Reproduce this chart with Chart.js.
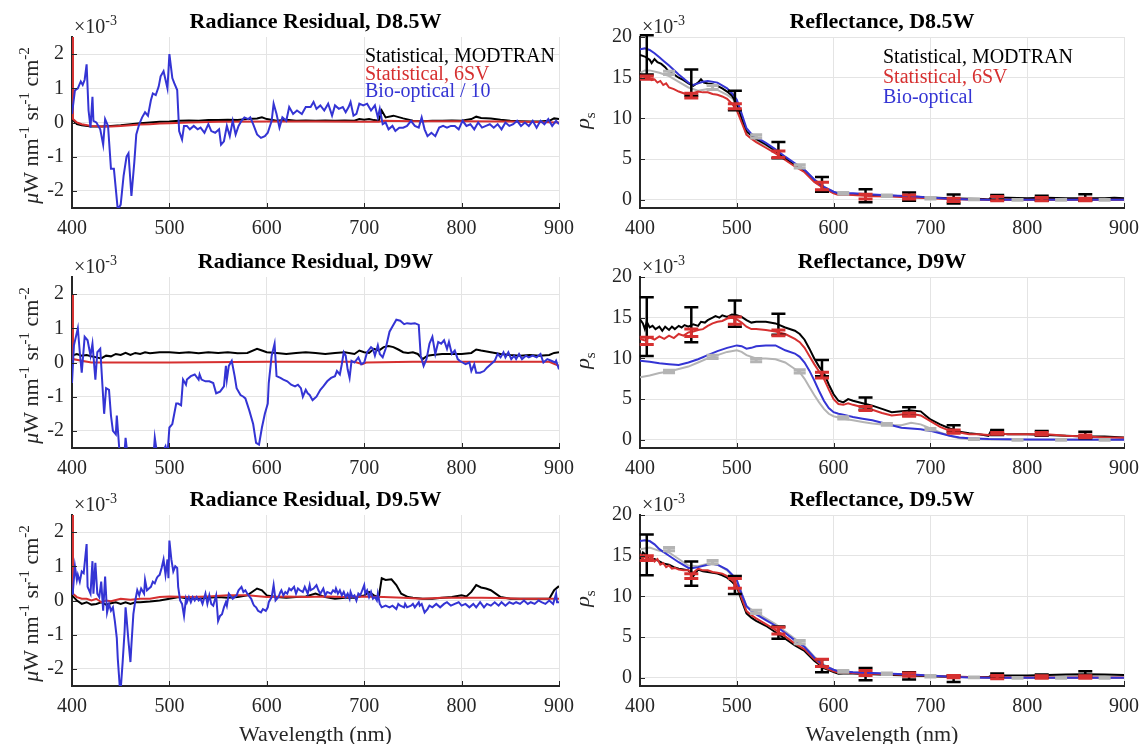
<!DOCTYPE html>
<html>
<head>
<meta charset="utf-8">
<script src="https://cdn.jsdelivr.net/npm/chart.js@4.4.1/dist/chart.umd.min.js"></script>
<style>
  body { margin: 0; background: #fff; width: 1142px; height: 744px; position: relative; overflow: hidden; }
  canvas { position: absolute; }
</style>
</head>
<body>
<canvas id="rad85"></canvas>
<canvas id="ref85"></canvas>
<canvas id="rad9"></canvas>
<canvas id="ref9"></canvas>
<canvas id="rad95"></canvas>
<canvas id="ref95"></canvas>
<script>
// ---- axis ticks ----
const xTicks = [400, 500, 600, 700, 800, 900];
const radTicks = [-2, -1, 0, 1, 2];
const reflTicks = [0, 5, 10, 15, 20];

// ---- radiance residuals (x1e-3), [wavelength nm, value] ----
const radModD85 = [[400,0.1],[405,-0.05],[410,-0.08],[420,-0.12],[430,-0.12],[440,-0.1],[450,-0.08],[460,-0.05],[470,-0.02],[480,0.0],[490,0.02],[500,0.03],[510,0.05],[520,0.06],[530,0.05],[540,0.07],[550,0.07],[560,0.08],[570,0.07],[580,0.1],[590,0.12],[595,0.15],[600,0.1],[610,0.05],[620,0.08],[630,0.05],[640,0.06],[650,0.05],[660,0.06],[670,0.05],[680,0.06],[690,0.05],[695,0.1],[700,0.08],[705,0.1],[710,0.07],[715,0.05],[718,0.35],[722,0.15],[730,0.2],[740,0.12],[750,0.05],[760,0.04],[770,0.05],[780,0.05],[790,0.06],[800,0.05],[810,0.1],[815,0.17],[820,0.13],[830,0.12],[840,0.08],[850,0.05],[860,0.04],[870,0.03],[880,0.03],[890,0.05],[895,0.12],[900,0.1]];
const rad6svD85 = [[400,2.6],[401,0.1],[405,0.0],[410,-0.05],[420,-0.1],[430,-0.12],[440,-0.12],[450,-0.1],[460,-0.08],[470,-0.06],[480,-0.05],[490,-0.03],[500,-0.02],[520,0.0],[550,0.02],[600,0.03],[650,0.03],[700,0.02],[715,0.02],[720,0.05],[750,0.04],[800,0.04],[850,0.03],[900,0.0]];
const radBioD85 = [[400,0.25],[403,0.94],[406,1.0],[409,1.2],[411,1.1],[413,1.25],[415,1.7],[417,0.35],[419,-0.15],[421,0.75],[422,0.05],[425,0.0],[429,-0.2],[432,-0.65],[434,0.1],[437,-0.1],[440,-1.35],[443,-1.35],[445,-1.95],[447,-2.55],[450,-2.4],[453,-1.55],[456,-1.0],[458,-0.9],[461,-2.15],[464,-1.15],[466,-0.35],[469,-0.05],[472,0.15],[475,0.3],[478,0.2],[481,0.65],[483,0.85],[486,0.8],[489,1.05],[491,1.35],[494,1.5],[496,1.25],[498,1.0],[500,2.0],[503,1.3],[505,1.15],[508,0.95],[510,-0.25],[513,-0.5],[515,-0.1],[518,-0.1],[521,-0.2],[525,-0.1],[529,-0.2],[532,-0.15],[536,-0.3],[540,-0.05],[543,-0.25],[547,-0.3],[551,-0.2],[553,-0.65],[556,-0.55],[559,-0.1],[562,-0.4],[565,0.05],[568,-0.35],[571,-0.1],[574,0.05],[577,0.15],[581,0.1],[583,0.15],[586,-0.05],[590,-0.35],[594,-0.45],[598,-0.4],[601,-0.3],[605,0.05],[607,0.55],[610,0.25],[613,-0.15],[616,0.15],[620,0.05],[623,0.45],[627,0.25],[631,0.35],[636,0.25],[640,0.45],[645,0.45],[648,0.6],[651,0.4],[655,0.5],[659,0.35],[663,0.55],[667,0.2],[670,0.5],[674,0.4],[678,0.45],[681,0.3],[684,0.45],[686,0.6],[689,0.2],[692,0.25],[695,0.55],[699,0.5],[703,0.55],[707,0.35],[711,0.5],[714,0.15],[716,0.4],[719,-0.05],[722,0.0],[725,-0.2],[729,-0.1],[732,-0.25],[736,-0.15],[740,-0.15],[744,-0.1],[748,0.05],[752,-0.1],[756,-0.15],[759,0.15],[762,-0.2],[765,-0.4],[769,-0.3],[773,-0.4],[777,-0.15],[781,-0.1],[785,-0.15],[789,-0.1],[793,-0.1],[797,-0.2],[801,0.05],[805,-0.1],[809,-0.05],[813,-0.2],[817,0.0],[821,-0.15],[825,-0.1],[829,-0.05],[833,-0.15],[837,-0.05],[841,-0.2],[845,0.0],[849,-0.1],[853,-0.05],[857,0.05],[861,-0.1],[865,0.0],[869,-0.1],[873,0.05],[877,-0.15],[881,0.05],[885,-0.05],[889,0.1],[893,-0.1],[897,0.05],[900,-0.05]];

const radModD9 = [[400,0.2],[405,0.25],[410,0.2],[415,0.22],[420,0.18],[425,0.15],[430,0.12],[435,0.2],[440,0.18],[445,0.25],[450,0.22],[455,0.28],[460,0.22],[465,0.28],[470,0.25],[475,0.3],[480,0.27],[490,0.3],[500,0.3],[510,0.28],[520,0.3],[530,0.27],[540,0.3],[550,0.28],[560,0.3],[570,0.27],[580,0.28],[590,0.4],[595,0.35],[600,0.3],[610,0.28],[620,0.25],[630,0.28],[640,0.3],[650,0.28],[660,0.25],[670,0.28],[680,0.3],[690,0.25],[695,0.35],[700,0.3],[705,0.28],[710,0.4],[715,0.35],[720,0.45],[725,0.48],[730,0.45],[735,0.38],[740,0.3],[745,0.28],[750,0.3],[755,0.25],[760,0.1],[765,0.2],[770,0.22],[780,0.25],[790,0.25],[800,0.25],[810,0.28],[815,0.38],[820,0.35],[830,0.3],[840,0.25],[850,0.22],[860,0.2],[870,0.22],[880,0.2],[890,0.22],[895,0.28],[900,0.3]];
const rad6svD9 = [[400,2.0],[401,0.1],[410,0.05],[420,0.0],[450,0.0],[500,0.0],[600,0.02],[690,0.02],[698,-0.05],[702,0.0],[750,0.02],[800,0.02],[850,0.02],[890,0.02],[900,-0.1]];
const radBioD9 = [[400,-0.6],[402,0.5],[406,1.0],[408,0.3],[410,-0.3],[413,0.75],[416,0.65],[418,0.35],[419,0.2],[421,0.55],[424,-0.5],[426,0.3],[429,0.4],[433,-1.5],[435,-0.75],[438,-0.8],[440,-1.55],[442,-2.0],[445,-2.1],[446,-1.55],[449,-2.7],[453,-3.0],[455,-2.2],[457,-2.7],[461,-3.2],[468,-3.5],[475,-3.3],[483,-3.0],[485,-2.2],[487,-2.6],[490,-2.8],[496,-2.45],[498,-2.7],[500,-1.9],[503,-1.8],[507,-1.2],[509,-1.2],[512,-1.25],[514,-0.5],[517,-0.65],[518,-0.5],[522,-0.4],[526,-0.35],[530,-0.5],[531,-0.35],[533,-0.5],[537,-0.55],[541,-0.55],[545,-0.6],[548,-0.9],[552,-0.85],[556,-0.7],[558,-0.1],[559,-0.5],[561,-0.1],[564,0.05],[567,-0.4],[569,-0.75],[573,-0.95],[576,-1.0],[578,-1.05],[582,-1.4],[586,-1.8],[589,-2.35],[592,-2.4],[595,-1.9],[598,-1.5],[601,-1.2],[602,-0.6],[605,0.2],[608,0.55],[610,-0.4],[614,-0.45],[617,-0.5],[621,-0.55],[625,-0.65],[629,-0.7],[632,-0.65],[635,-0.75],[637,-1.0],[640,-0.8],[642,-0.9],[644,-0.95],[647,-1.1],[651,-1.0],[655,-0.8],[658,-0.7],[662,-0.55],[666,-0.45],[670,-0.4],[672,-0.25],[675,-0.35],[677,-0.05],[679,0.3],[681,0.2],[683,-0.2],[685,-0.45],[687,0.05],[690,0.0],[694,0.15],[697,-0.05],[700,0.0],[703,0.3],[707,0.45],[709,0.4],[711,0.2],[714,0.5],[716,0.25],[719,0.15],[722,0.4],[726,0.9],[729,1.05],[733,1.25],[737,1.22],[741,1.12],[744,1.15],[748,1.13],[752,1.15],[756,1.1],[758,0.2],[761,-0.1],[764,0.1],[767,0.55],[770,0.75],[773,0.25],[776,0.6],[779,0.55],[782,0.65],[785,0.4],[787,0.6],[790,0.25],[793,0.35],[796,0.1],[798,0.05],[801,0.0],[804,-0.05],[808,0.0],[810,-0.25],[813,-0.05],[815,-0.3],[819,-0.3],[823,-0.25],[826,-0.15],[830,-0.05],[834,0.05],[837,0.25],[840,0.15],[843,0.3],[845,0.15],[848,0.3],[851,0.1],[854,0.2],[856,0.1],[859,0.25],[862,0.1],[866,0.2],[869,0.15],[873,0.2],[877,0.15],[881,0.25],[884,0.0],[888,0.1],[892,0.05],[896,0.0],[897,0.05],[900,-0.2]];

const radModD95 = [[400,0.15],[405,0.0],[410,-0.1],[415,-0.05],[420,-0.12],[425,-0.1],[430,-0.05],[435,-0.12],[440,-0.08],[445,-0.05],[450,-0.1],[455,-0.05],[460,-0.1],[465,-0.05],[470,-0.05],[480,-0.03],[490,0.0],[500,0.05],[510,0.1],[520,0.05],[530,0.05],[540,0.08],[550,0.1],[560,0.08],[570,0.1],[580,0.15],[590,0.35],[595,0.3],[600,0.15],[610,0.1],[620,0.08],[630,0.1],[640,0.12],[650,0.2],[660,0.1],[670,0.05],[680,0.08],[690,0.08],[700,0.15],[705,0.25],[710,0.15],[715,0.1],[718,0.65],[722,0.6],[728,0.62],[733,0.45],[738,0.2],[745,0.1],[750,0.08],[760,0.05],[770,0.05],[780,0.08],[790,0.1],[800,0.15],[805,0.12],[810,0.25],[815,0.45],[820,0.38],[825,0.35],[830,0.3],[835,0.2],[840,0.1],[850,0.05],[860,0.05],[870,0.05],[880,0.05],[890,0.05],[895,0.3],[900,0.42]];
const rad6svD95 = [[400,2.6],[401,0.2],[405,0.1],[410,0.05],[415,0.05],[420,0.0],[425,0.05],[430,-0.05],[435,0.0],[440,-0.02],[450,0.05],[460,0.02],[470,0.05],[480,0.05],[490,0.1],[500,0.12],[520,0.1],[540,0.12],[560,0.15],[580,0.15],[600,0.1],[620,0.12],[640,0.1],[660,0.12],[680,0.1],[700,0.12],[720,0.1],[740,0.08],[760,0.05],[780,0.08],[800,0.08],[820,0.08],[840,0.07],[860,0.05],[880,0.05],[900,0.05]];
const radBioD95 = [[400,0.2],[401,0.3],[403,1.0],[405,0.6],[406,0.75],[408,0.55],[410,0.85],[412,0.8],[415,1.65],[416,0.4],[419,0.2],[421,1.15],[422,0.2],[424,1.1],[426,0.2],[428,0.1],[430,0.55],[432,-0.3],[434,0.7],[436,-0.35],[438,-0.1],[440,-0.3],[442,-0.2],[444,-0.6],[446,-1.1],[447,-1.7],[449,-2.5],[450,-2.6],[452,-1.8],[454,-0.9],[455,-0.2],[456,-0.5],[458,-1.2],[460,-1.8],[461,-1.3],[463,-0.4],[465,0.0],[467,0.3],[469,0.15],[471,0.35],[474,0.2],[475,0.6],[477,0.3],[479,0.35],[481,0.4],[483,0.55],[485,0.5],[487,0.65],[488,0.7],[490,0.75],[492,0.95],[494,1.2],[496,0.75],[498,1.2],[499,0.65],[500,1.75],[502,1.2],[504,0.85],[506,1.0],[508,0.95],[509,0.4],[511,0.0],[513,-0.1],[515,-0.45],[517,0.05],[518,-0.05],[520,0.1],[522,-0.05],[524,0.1],[526,0.0],[528,0.1],[530,0.0],[532,0.05],[534,-0.1],[537,0.2],[539,-0.1],[541,0.15],[543,-0.1],[545,-0.15],[546,-0.05],[548,0.15],[550,-0.6],[552,-0.45],[554,-0.4],[556,-0.2],[558,-0.05],[559,-0.15],[561,0.2],[565,0.05],[569,0.15],[571,0.3],[574,0.4],[576,0.25],[578,0.3],[580,0.2],[584,0.05],[586,-0.1],[587,-0.15],[589,-0.2],[591,-0.3],[594,-0.35],[596,-0.25],[599,-0.3],[601,-0.2],[602,-0.05],[605,0.1],[607,0.45],[609,0.0],[612,0.1],[614,0.25],[615,0.3],[617,0.15],[619,0.25],[621,0.2],[623,0.35],[625,0.3],[628,0.4],[630,0.2],[632,0.35],[634,0.3],[637,0.25],[639,0.4],[642,0.2],[644,0.45],[645,0.3],[648,0.35],[651,0.45],[653,0.3],[655,0.2],[658,0.35],[660,0.15],[662,0.25],[666,0.2],[668,0.3],[670,0.25],[671,0.35],[673,0.2],[675,0.3],[677,0.15],[679,0.25],[681,0.1],[683,0.2],[685,0.05],[686,0.25],[688,0.1],[690,0.15],[692,0.0],[694,0.2],[696,0.15],[698,0.3],[700,0.45],[701,0.2],[703,0.3],[705,0.1],[707,0.25],[709,0.05],[711,0.1],[713,0.0],[714,0.2],[716,-0.1],[718,-0.2],[722,-0.15],[726,-0.2],[729,-0.15],[733,-0.25],[735,-0.1],[737,-0.15],[741,-0.2],[742,-0.1],[744,-0.2],[748,-0.15],[750,-0.1],[752,-0.2],[756,-0.05],[757,-0.15],[759,-0.1],[762,-0.35],[765,-0.25],[767,-0.15],[770,-0.2],[774,-0.1],[778,-0.2],[782,-0.1],[785,-0.05],[789,-0.15],[793,-0.1],[797,-0.05],[800,-0.15],[804,-0.1],[808,-0.2],[812,-0.1],[815,-0.2],[819,-0.05],[823,-0.2],[826,-0.1],[830,-0.15],[834,-0.05],[838,-0.15],[841,-0.05],[845,-0.15],[849,-0.05],[853,-0.1],[856,-0.05],[860,-0.1],[864,0.0],[868,-0.1],[871,-0.05],[875,-0.1],[879,0.0],[882,-0.05],[886,-0.1],[890,0.0],[894,-0.1],[897,0.2],[898,-0.05],[900,-0.05]];

// ---- surface reflectance (x1e-3), [wavelength nm, value] ----
const refModD85 = [[400,17.8],[405,17.6],[410,17.2],[412,16.8],[415,17.3],[418,16.9],[422,16.7],[426,16.3],[430,15.7],[435,15.4],[440,15.0],[445,14.7],[450,14.3],[455,14.0],[460,14.4],[463,14.8],[466,14.4],[470,14.3],[475,14.2],[480,14.0],[485,13.7],[490,13.3],[495,12.8],[500,11.8],[505,10.0],[510,8.4],[515,7.9],[520,7.5],[530,6.8],[540,6.0],[550,5.1],[560,4.2],[570,3.5],[580,2.3],[590,1.5],[600,0.9],[605,0.7],[610,0.7],[620,0.7],[640,0.6],[660,0.5],[680,0.4],[700,0.3],[720,0.2],[740,0.15],[755,0.1],[760,0.05],[765,0.5],[770,0.3],[780,0.25],[800,0.2],[820,0.25],[840,0.2],[860,0.2],[880,0.2],[890,0.25],[900,0.2]];
const ref6svD85 = [[400,15.0],[403,15.3],[406,14.9],[409,15.1],[412,14.7],[415,14.8],[418,14.4],[421,14.6],[424,14.1],[427,14.3],[430,13.8],[435,13.6],[440,13.3],[445,13.1],[450,12.9],[455,13.1],[460,13.3],[465,13.2],[470,13.2],[475,13.0],[480,12.9],[485,12.7],[490,12.4],[495,11.8],[500,11.0],[505,9.5],[510,8.0],[515,7.5],[520,7.1],[530,6.4],[540,5.7],[550,4.9],[560,4.1],[570,3.4],[580,2.2],[590,1.4],[600,0.8],[605,0.6],[610,0.65],[620,0.6],[640,0.45],[660,0.4],[680,0.3],[700,0.2],[720,0.1],[740,0.05],[760,0.02],[780,0.0],[800,0.0],[850,0.0],[900,0.0]];
const refBioD85 = [[400,18.5],[405,18.6],[410,18.4],[415,18.0],[420,17.5],[425,17.0],[430,16.5],[440,15.4],[450,14.4],[455,14.1],[460,14.3],[465,14.5],[470,14.6],[480,14.4],[490,13.7],[495,13.1],[500,12.3],[505,10.6],[510,8.8],[515,8.1],[520,7.7],[530,7.0],[540,6.2],[550,5.3],[560,4.5],[570,3.7],[580,2.5],[590,1.6],[600,1.0],[605,0.8],[610,0.8],[620,0.8],[640,0.65],[660,0.55],[680,0.45],[700,0.3],[720,0.15],[740,0.05],[760,0.0],[800,0.0],[850,0.0],[900,0.0]];
const refObsD85 = [[400,15.6],[405,15.9],[410,15.9],[420,15.6],[430,15.2],[440,14.5],[450,13.8],[460,13.4],[470,13.6],[480,13.5],[490,12.9],[495,12.5],[500,11.8],[505,10.0],[510,8.0],[515,7.6],[520,7.3],[530,6.7],[540,6.0],[550,5.2],[560,4.4],[570,3.7],[580,2.5],[590,1.6],[600,1.0],[610,0.8],[620,0.7],[650,0.5],[700,0.2],[750,0.0],[800,0.0],[900,0.0]];

const refModD9 = [[400,14.8],[403,14.3],[405,13.6],[407,14.5],[410,13.8],[413,14.0],[416,13.6],[420,13.9],[423,13.4],[426,13.9],[430,13.5],[433,13.9],[436,13.6],[440,14.0],[443,13.8],[446,14.1],[450,13.9],[455,14.2],[460,14.0],[463,14.5],[467,14.4],[470,14.7],[475,15.0],[478,15.2],[482,15.0],[485,15.3],[490,15.1],[495,15.4],[500,15.3],[505,15.1],[510,14.7],[515,14.4],[520,14.5],[530,14.5],[540,14.3],[550,13.8],[560,13.4],[565,13.0],[570,12.3],[575,11.2],[580,10.0],[585,9.0],[590,8.2],[595,6.8],[600,5.6],[605,4.8],[610,4.6],[615,5.0],[620,4.8],[630,4.5],[640,4.2],[650,3.8],[660,3.4],[670,3.5],[680,3.6],[690,3.5],[695,3.0],[700,2.5],[710,1.9],[720,1.4],[730,1.0],[740,0.8],[750,0.7],[755,0.6],[760,0.5],[763,1.2],[767,0.9],[770,0.8],[780,0.7],[800,0.7],[820,0.6],[840,0.5],[860,0.4],[880,0.4],[900,0.3]];
const ref6svD9 = [[400,12.4],[405,12.2],[410,12.6],[415,12.3],[420,12.7],[425,12.4],[430,12.8],[435,12.5],[440,13.0],[445,12.8],[450,13.2],[455,13.3],[460,13.5],[465,13.6],[470,14.0],[475,14.3],[480,14.5],[485,14.6],[490,14.9],[495,15.0],[500,14.8],[505,14.4],[510,13.9],[515,13.6],[520,13.6],[530,13.5],[540,13.3],[550,13.0],[560,12.4],[565,12.0],[570,11.3],[575,10.3],[580,9.3],[585,8.4],[590,7.5],[595,6.2],[600,5.0],[605,4.4],[610,4.3],[615,4.5],[620,4.3],[630,4.0],[640,3.7],[650,3.3],[660,3.0],[670,3.1],[680,3.2],[690,3.0],[700,2.3],[710,1.6],[720,1.1],[730,0.9],[740,0.7],[750,0.7],[760,0.6],[770,0.8],[780,0.7],[800,0.7],[820,0.7],[840,0.5],[860,0.4],[880,0.3],[900,0.25]];
const refBioD9 = [[400,9.7],[410,9.6],[420,9.4],[430,9.3],[440,9.2],[450,9.5],[460,9.9],[470,10.4],[480,10.9],[490,11.3],[500,11.6],[505,11.5],[510,11.2],[515,11.3],[520,11.5],[530,11.6],[540,11.6],[545,11.3],[550,11.0],[560,10.6],[565,10.2],[570,9.5],[575,8.5],[580,7.3],[585,6.0],[590,4.8],[595,3.9],[600,3.4],[605,3.2],[610,3.1],[620,2.8],[630,2.6],[640,2.4],[650,2.1],[660,1.8],[670,1.5],[680,1.4],[690,1.3],[700,1.1],[710,0.8],[720,0.5],[730,0.3],[740,0.2],[760,0.1],[800,0.05],[900,0.0]];
const refObsD9 = [[400,7.7],[410,7.9],[420,8.2],[430,8.4],[440,8.7],[450,9.0],[460,9.5],[470,10.0],[480,10.4],[490,10.8],[500,11.0],[505,10.8],[510,10.4],[520,10.0],[530,10.0],[540,9.9],[550,9.5],[560,8.7],[565,8.3],[570,7.5],[575,6.5],[580,5.5],[585,4.6],[590,3.8],[595,3.2],[600,2.9],[610,2.6],[620,2.4],[630,2.2],[640,2.0],[650,1.9],[660,1.8],[670,1.8],[680,2.1],[690,1.9],[700,1.4],[710,0.9],[720,0.5],[730,0.2],[740,0.1],[760,0.05],[800,0.0],[900,0.0]];

const refModD95 = [[400,14.5],[403,15.4],[407,15.0],[410,14.5],[415,14.6],[420,14.3],[425,14.0],[430,13.9],[435,13.6],[440,13.4],[445,13.3],[450,13.2],[455,12.5],[460,13.3],[465,13.1],[470,13.0],[475,12.9],[480,12.8],[485,12.6],[490,12.3],[495,11.8],[500,11.2],[505,9.5],[510,7.9],[515,7.4],[520,7.0],[530,6.4],[540,5.6],[550,4.8],[560,4.0],[570,3.3],[580,2.1],[590,1.2],[600,0.7],[605,0.5],[610,0.55],[620,0.55],[640,0.45],[660,0.35],[680,0.3],[700,0.2],[720,0.15],[740,0.1],[760,0.1],[765,0.4],[770,0.3],[780,0.3],[800,0.3],[820,0.35],[840,0.4],[860,0.45],[880,0.4],[900,0.35]];
const ref6svD95 = [[400,15.2],[403,14.6],[406,15.1],[409,14.5],[412,14.9],[415,14.3],[418,14.6],[421,13.9],[424,14.1],[427,13.6],[430,13.8],[433,13.4],[436,13.5],[440,13.3],[445,13.2],[450,13.2],[455,12.9],[460,13.4],[465,13.2],[470,13.2],[475,13.0],[480,12.9],[485,12.8],[490,12.5],[495,12.0],[500,11.4],[505,9.8],[510,8.2],[515,7.7],[520,7.3],[530,6.6],[540,5.9],[550,5.1],[560,4.2],[570,3.5],[580,2.3],[590,1.3],[600,0.8],[605,0.65],[610,0.7],[620,0.6],[640,0.5],[660,0.45],[680,0.35],[700,0.25],[720,0.15],[740,0.1],[760,0.05],[780,0.05],[800,0.05],[850,0.05],[900,0.05]];
const refBioD95 = [[400,16.8],[405,16.9],[410,16.8],[415,16.4],[420,15.8],[430,15.0],[440,14.2],[450,13.5],[455,13.5],[460,13.6],[470,13.9],[475,14.0],[480,13.9],[490,13.3],[495,12.7],[500,12.0],[505,10.3],[510,8.8],[515,8.2],[520,7.8],[530,7.1],[540,6.4],[550,5.5],[560,4.6],[570,3.8],[580,2.5],[590,1.5],[600,1.0],[605,0.8],[610,0.8],[620,0.7],[640,0.6],[660,0.5],[680,0.4],[700,0.3],[720,0.15],[740,0.05],[760,0.0],[800,0.0],[900,0.0]];
const refObsD95 = [[400,15.8],[410,16.0],[420,15.6],[430,15.4],[440,14.6],[450,13.8],[460,13.7],[470,14.0],[480,13.9],[490,13.2],[500,12.0],[505,10.4],[510,8.8],[520,8.0],[530,7.3],[540,6.6],[550,5.7],[560,4.8],[570,3.9],[580,2.6],[590,1.6],[600,1.0],[610,0.8],[620,0.7],[650,0.5],[700,0.2],[750,0.05],[800,0.0],[900,0.0]];

// ---- error bars on reflectance (band centres, mean, half-range) ----
const ebNm = [407, 453, 498, 543, 588, 633, 678, 724, 769, 815, 860];
const ebNmObs = [430, 475, 520, 565, 610, 655, 700, 745, 790, 835, 880];

const ebModMeanD85 = [17.8, 14.4, 12.2, 6.1, 1.9, 0.5, 0.4, 0.1, 0.3, 0.2, 0.3];
const ebModErrD85 = [2.4, 1.6, 1.2, 1.0, 0.9, 0.8, 0.5, 0.55, 0.3, 0.3, 0.4];
const eb6svMeanD85 = [15.0, 12.8, 11.5, 5.6, 1.7, 0.4, 0.35, 0.0, 0.15, 0.1, 0.05];
const eb6svErrD85 = [0.2, 0.3, 0.3, 0.4, 0.45, 0.3, 0.25, 0.2, 0.25, 0.2, 0.15];
const ebObsMeanD85 = [15.6, 13.8, 7.8, 4.1, 0.8, 0.5, 0.2, 0.05, 0.0, 0.0, 0.0];
const ebObsErrD85 = [0.2, 0.25, 0.2, 0.2, 0.1, 0.1, 0.1, 0.05, 0.05, 0.05, 0.05];

const ebModMeanD9 = [13.9, 14.15, 15.5, 14.2, 8.8, 4.45, 3.5, 1.4, 0.9, 0.8, 0.6];
const ebModErrD9 = [3.6, 2.15, 1.6, 1.3, 1.0, 0.75, 0.5, 0.4, 0.3, 0.3, 0.4];
const eb6svMeanD9 = [12.15, 13.15, 14.65, 13.15, 7.95, 3.85, 3.1, 1.0, 0.8, 0.75, 0.45];
const eb6svErrD9 = [0.45, 0.45, 0.45, 0.35, 0.35, 0.25, 0.2, 0.2, 0.1, 0.15, 0.15];
const ebObsMeanD9 = [8.4, 10.2, 9.8, 8.4, 2.7, 1.9, 1.3, 0.1, 0.0, 0.0, 0.0];
const ebObsErrD9 = [0.15, 0.2, 0.2, 0.2, 0.15, 0.1, 0.1, 0.05, 0.05, 0.05, 0.05];

const ebModMeanD95 = [15.1, 12.8, 11.4, 5.55, 1.5, 0.45, 0.25, -0.1, 0.35, 0.2, 0.5];
const ebModErrD95 = [2.5, 1.5, 1.1, 0.75, 0.8, 0.75, 0.45, 0.4, 0.2, 0.2, 0.3];
const eb6svMeanD95 = [14.7, 12.5, 11.6, 5.8, 1.85, 0.6, 0.4, 0.15, 0.1, 0.1, 0.1];
const eb6svErrD95 = [0.3, 0.3, 0.6, 0.4, 0.45, 0.3, 0.2, 0.15, 0.2, 0.15, 0.15];
const ebObsMeanD95 = [15.8, 14.2, 8.1, 4.4, 0.8, 0.5, 0.2, 0.05, 0.0, 0.0, 0.0];
const ebObsErrD95 = [0.2, 0.2, 0.2, 0.2, 0.1, 0.1, 0.1, 0.05, 0.05, 0.05, 0.05];

// ---- styling ----
const SERIF = '"Liberation Serif", "Times New Roman", serif';
const INK = '#262626';
const BLACK = '#000000';
const RED = '#d63030';
const BLUE = '#3434d4';
const GRAY = '#b4b4b4';
const GRID = '#e4e4e4';

// rich text: [text, kind] with kind '' | 'i' | 'sup' | 'sub'
function segFont(kind, size) {
  const s = (kind === 'sup' || kind === 'sub') ? Math.round(size * 0.7) : size;
  return (kind === 'i' ? 'italic ' : '') + s + 'px ' + SERIF;
}
function drawRich(ctx, segs, x, y, size, align) {
  const widths = segs.map(([t, k]) => { ctx.font = segFont(k, size); return ctx.measureText(t).width; });
  const total = widths.reduce((a, b) => a + b, 0);
  let cx = align === 'center' ? x - total / 2 : x;
  ctx.textAlign = 'left';
  ctx.textBaseline = 'alphabetic';
  segs.forEach(([t, k], i) => {
    ctx.font = segFont(k, size);
    const dy = k === 'sup' ? -size * 0.42 : k === 'sub' ? size * 0.28 : 0;
    ctx.fillText(t, cx, y + dy);
    cx += widths[i];
  });
}

const RAD_UNITS = [['μ', 'i'], ['W nm', ''], ['-1', 'sup'], [' sr', ''], ['-1', 'sup'], [' cm', ''], ['-2', 'sup']];
const RHO = [['ρ', 'i'], ['s', 'sub']];
const EXP = [['×10', ''], ['-3', 'sup']];

// titles, exponent, axis labels, legend text, inward ticks and error bars
const panelDecor = {
  id: 'panelDecor',
  afterDatasetsDraw(chart, args, o) {
    const { ctx, scales: { x, y } } = chart;
    (o.bars || []).forEach(b => {
      ctx.save();
      ctx.strokeStyle = b.color;
      ctx.lineWidth = b.width;
      b.nm.forEach((w, i) => {
        const px = x.getPixelForValue(w);
        const top = y.getPixelForValue(b.mean[i] + b.err[i]);
        const bot = y.getPixelForValue(b.mean[i] - b.err[i]);
        ctx.beginPath();
        ctx.moveTo(px, top); ctx.lineTo(px, bot);
        ctx.moveTo(px - b.cap, top); ctx.lineTo(px + b.cap, top);
        ctx.moveTo(px - b.cap, bot); ctx.lineTo(px + b.cap, bot);
        ctx.stroke();
      });
      ctx.restore();
    });
  },
  afterDraw(chart, args, o) {
    const { ctx, chartArea: a, scales: { x, y } } = chart;
    ctx.save();
    // inward tick marks
    ctx.strokeStyle = INK;
    ctx.lineWidth = 1;
    ctx.beginPath();
    x.ticks.forEach(t => {
      const px = Math.round(x.getPixelForValue(t.value)) + 0.5;
      ctx.moveTo(px, a.bottom); ctx.lineTo(px, a.bottom - 5);
    });
    y.ticks.forEach(t => {
      const py = Math.round(y.getPixelForValue(t.value)) + 0.5;
      ctx.moveTo(a.left, py); ctx.lineTo(a.left + 5, py);
    });
    ctx.stroke();

    // title
    ctx.fillStyle = BLACK;
    ctx.font = 'bold 22px ' + SERIF;
    ctx.textAlign = 'center';
    ctx.textBaseline = 'middle';
    ctx.fillText(o.title, (a.left + a.right) / 2, a.top - 15);

    // exponent above the y axis
    ctx.fillStyle = INK;
    drawRich(ctx, EXP, a.left + 2, a.top - 4, 20, 'left');

    // y label
    ctx.save();
    ctx.translate(o.yLabelX, (a.top + a.bottom) / 2 + o.yLabelDy);
    ctx.rotate(-Math.PI / 2);
    drawRich(ctx, o.yLabel, 0, 0, 22, 'center');
    ctx.restore();

    // x label on the bottom row
    if (o.xLabel) {
      ctx.font = '22px ' + SERIF;
      ctx.textAlign = 'center';
      ctx.textBaseline = 'middle';
      ctx.fillText(o.xLabel, (a.left + a.right) / 2, a.bottom + 49);
    }

    // legend, text only
    if (o.legend) {
      ctx.font = '20px ' + SERIF;
      ctx.textAlign = 'left';
      ctx.textBaseline = 'middle';
      o.legend.items.forEach((idx, i) => {
        const ds = chart.data.datasets[idx];
        ctx.fillStyle = ds.borderColor;
        ctx.fillText(ds.label, a.left + o.legend.dx, a.top + o.legend.dy + i * o.legend.step);
      });
    }
    ctx.restore();
  }
};

function line(label, data, color, order) {
  return {
    label, borderColor: color, borderWidth: 2, pointRadius: 0, tension: 0,
    fill: false, order, data: data.map(([x, y]) => ({ x, y }))
  };
}

function makePanel(id, geo, series, yRange, yTicks, decor) {
  const cv = document.getElementById(id);
  cv.width = geo.w;
  cv.height = geo.h;
  cv.style.left = geo.x + 'px';
  cv.style.top = geo.y + 'px';
  const tickFont = { family: SERIF, size: 20 };
  new Chart(cv, {
    type: 'line',
    data: { datasets: series },
    options: {
      responsive: false,
      animation: false,
      events: [],
      layout: { padding: { top: 37, right: geo.padRight, left: 0, bottom: 0 } },
      scales: {
        x: {
          type: 'linear', min: 400, max: 900,
          afterBuildTicks: s => { s.ticks = xTicks.map(v => ({ value: v })); },
          grid: { color: GRID, lineWidth: 1, drawTicks: false },
          border: { color: INK, width: 2 },
          ticks: { font: tickFont, color: INK, padding: 9, maxRotation: 0, autoSkip: false, callback: v => String(v) },
          afterFit: s => { s.height = geo.h - 37 - 171; s.paddingLeft = 0; s.paddingRight = 0; }
        },
        y: {
          type: 'linear', min: yRange[0], max: yRange[1],
          afterBuildTicks: s => { s.ticks = yTicks.map(v => ({ value: v })); },
          grid: { color: GRID, lineWidth: 1, drawTicks: false },
          border: { color: INK, width: 2 },
          ticks: { font: tickFont, color: INK, padding: 8, callback: v => String(v) },
          afterFit: s => { s.width = geo.yW; s.paddingTop = 0; s.paddingBottom = 0; }
        }
      },
      plugins: {
        legend: { display: false },
        tooltip: { enabled: false },
        panelDecor: decor
      }
    },
    plugins: [panelDecor]
  });
}

// column / row geometry
const LEFT = { x: 0, w: 580, yW: 72, padRight: 21 };
const RIGHT = { x: 580, w: 562, yW: 60, padRight: 18 };
const ROWS = [{ y: 0, h: 240 }, { y: 240, h: 238 }, { y: 478, h: 266 }];
const geo = (col, row) => Object.assign({}, col, ROWS[row]);

const radLabel = { yLabel: RAD_UNITS, yLabelX: 38, yLabelDy: 3 };
const refLabel = { yLabel: RHO, yLabelX: 9, yLabelDy: -2 };

function errBars(mod, modErr, six, sixErr, obs, obsErr) {
  return [
    { nm: ebNmObs, mean: obs, err: obsErr, color: GRAY, width: 3, cap: 6 },
    { nm: ebNm, mean: mod, err: modErr, color: BLACK, width: 2.5, cap: 7 },
    { nm: ebNm, mean: six, err: sixErr, color: RED, width: 3, cap: 7 }
  ];
}

makePanel('rad85', geo(LEFT, 0), [
  line('Statistical, MODTRAN', radModD85, BLACK, 2),
  line('Statistical, 6SV', rad6svD85, RED, 1),
  line('Bio-optical / 10', radBioD85, BLUE, 0)
], [-2.5, 2.5], radTicks, Object.assign({
  title: 'Radiance Residual, D8.5W',
  legend: { items: [0, 1, 2], dx: 293, dy: 20, step: 17.5 }
}, radLabel));

makePanel('ref85', geo(RIGHT, 0), [
  line('Statistical, MODTRAN', refModD85, BLACK, 2),
  line('Statistical, 6SV', ref6svD85, RED, 1),
  line('Bio-optical', refBioD85, BLUE, 0),
  line('Measured', refObsD85, GRAY, 3)
], [-1, 20], reflTicks, Object.assign({
  title: 'Reflectance, D8.5W',
  legend: { items: [0, 1, 2], dx: 243, dy: 21, step: 20 },
  bars: errBars(ebModMeanD85, ebModErrD85, eb6svMeanD85, eb6svErrD85, ebObsMeanD85, ebObsErrD85)
}, refLabel));

makePanel('rad9', geo(LEFT, 1), [
  line('Statistical, MODTRAN', radModD9, BLACK, 2),
  line('Statistical, 6SV', rad6svD9, RED, 1),
  line('Bio-optical / 10', radBioD9, BLUE, 0)
], [-2.5, 2.5], radTicks, Object.assign({
  title: 'Radiance Residual, D9W'
}, radLabel));

makePanel('ref9', geo(RIGHT, 1), [
  line('Statistical, MODTRAN', refModD9, BLACK, 2),
  line('Statistical, 6SV', ref6svD9, RED, 1),
  line('Bio-optical', refBioD9, BLUE, 0),
  line('Measured', refObsD9, GRAY, 3)
], [-1, 20], reflTicks, Object.assign({
  title: 'Reflectance, D9W',
  bars: errBars(ebModMeanD9, ebModErrD9, eb6svMeanD9, eb6svErrD9, ebObsMeanD9, ebObsErrD9)
}, refLabel));

makePanel('rad95', geo(LEFT, 2), [
  line('Statistical, MODTRAN', radModD95, BLACK, 2),
  line('Statistical, 6SV', rad6svD95, RED, 1),
  line('Bio-optical / 10', radBioD95, BLUE, 0)
], [-2.5, 2.5], radTicks, Object.assign({
  title: 'Radiance Residual, D9.5W',
  xLabel: 'Wavelength (nm)'
}, radLabel));

makePanel('ref95', geo(RIGHT, 2), [
  line('Statistical, MODTRAN', refModD95, BLACK, 2),
  line('Statistical, 6SV', ref6svD95, RED, 1),
  line('Bio-optical', refBioD95, BLUE, 0),
  line('Measured', refObsD95, GRAY, 3)
], [-1, 20], reflTicks, Object.assign({
  title: 'Reflectance, D9.5W',
  xLabel: 'Wavelength (nm)',
  bars: errBars(ebModMeanD95, ebModErrD95, eb6svMeanD95, eb6svErrD95, ebObsMeanD95, ebObsErrD95)
}, refLabel));
</script>
</body>
</html>
